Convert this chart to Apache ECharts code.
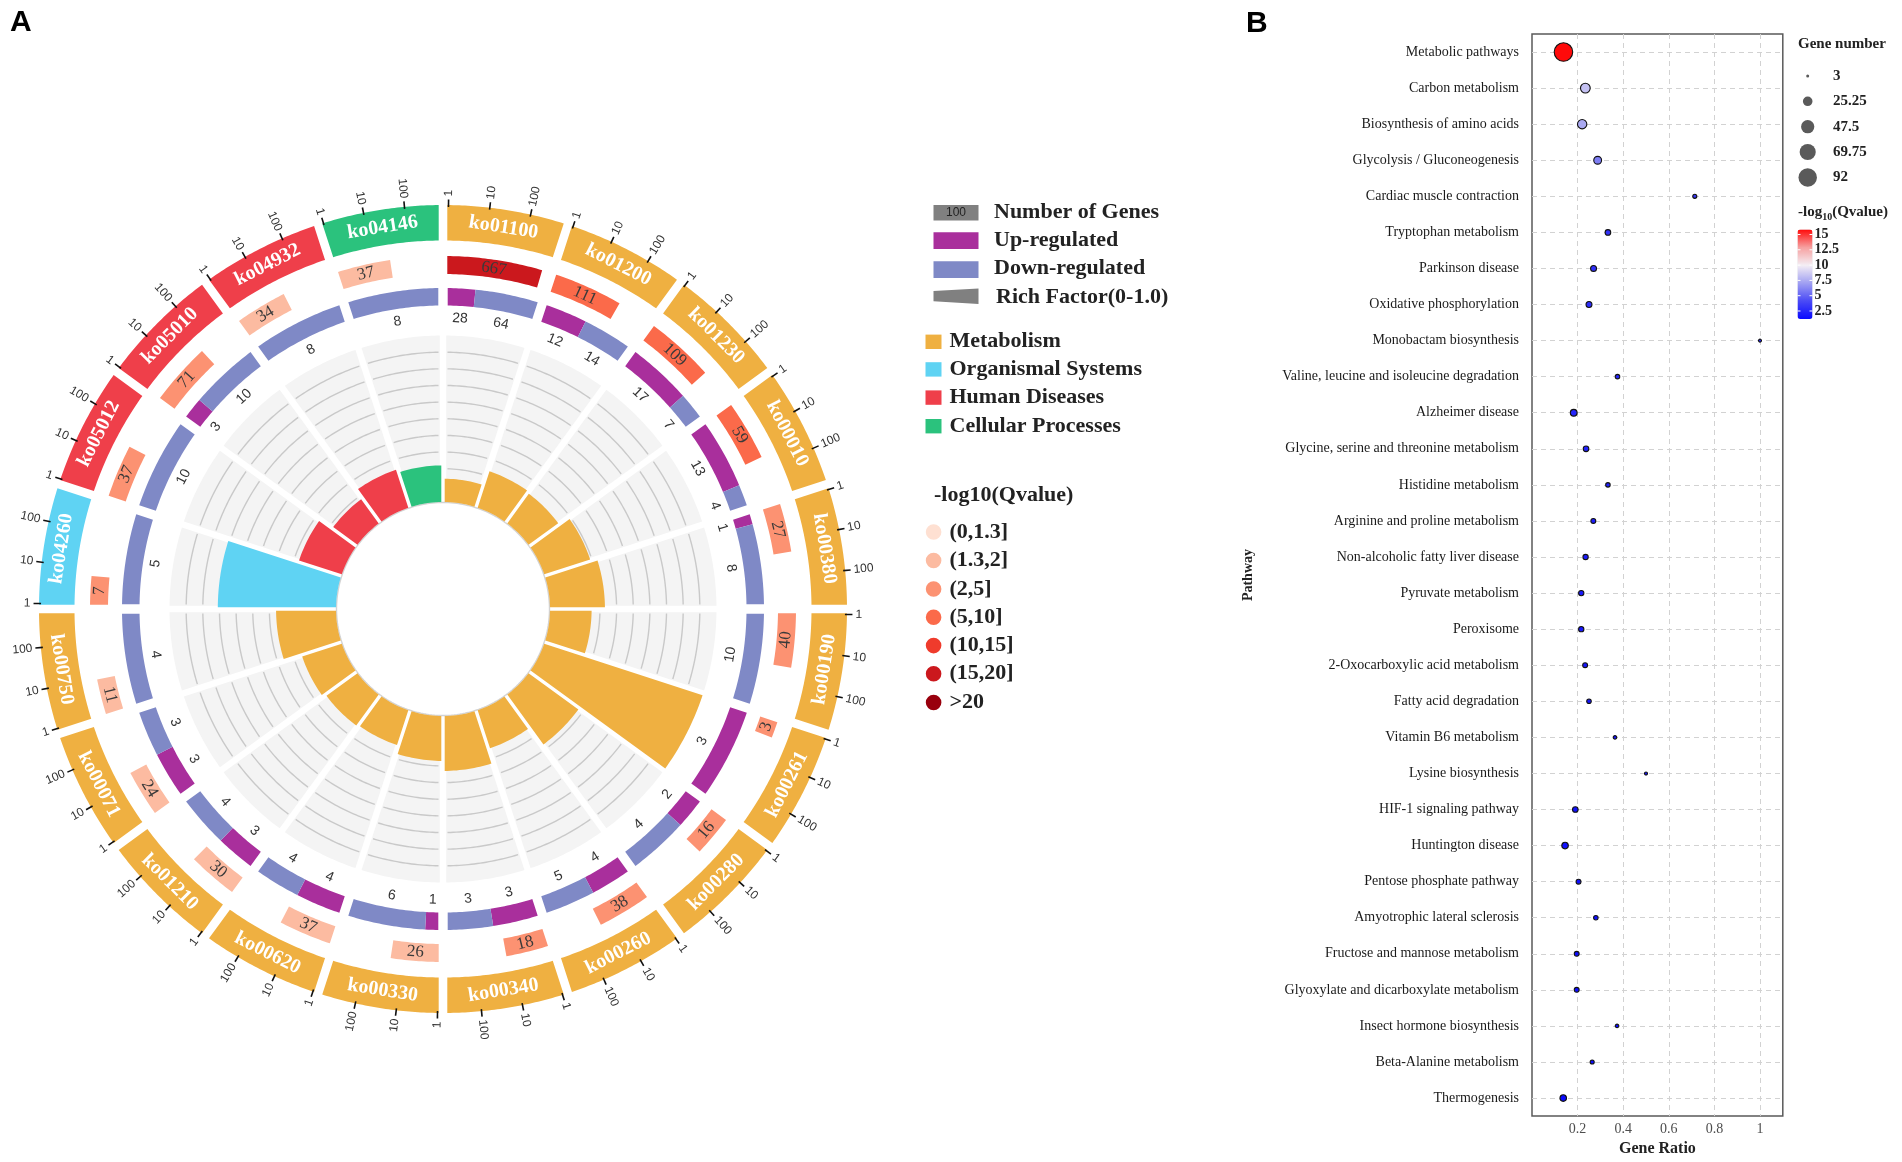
<!DOCTYPE html>
<html>
<head>
<meta charset="utf-8">
<script src="https://cdn.jsdelivr.net/npm/echarts@6/dist/echarts.min.js"></script>
<style>
html,body{margin:0;padding:0;background:#ffffff;}
#c{width:1902px;height:1162px;}
</style>
</head>
<body>
<div id="c"></div>
<script>
// ================= Panel A data =================
const pathwayIds = ['ko01100','ko01200','ko01230','ko00010','ko00380','ko00190','ko00261','ko00280','ko00260','ko00340',
                    'ko00330','ko00620','ko01210','ko00071','ko00750','ko04260','ko05012','ko05010','ko04932','ko04146'];
const pathwayClass = ['Metabolism','Metabolism','Metabolism','Metabolism','Metabolism','Metabolism','Metabolism','Metabolism','Metabolism','Metabolism',
                      'Metabolism','Metabolism','Metabolism','Metabolism','Metabolism','Organismal Systems','Human Diseases','Human Diseases','Human Diseases','Cellular Processes'];
const backgroundGenes = [667,111,109,59,27,40,3,16,38,18,26,37,30,24,11,7,37,71,34,37];
const upGenes   = [28,12,17,13,1,0,3,2,4,3,1,4,3,3,0,0,0,3,0,0];
const downGenes = [64,14,7,4,8,10,0,4,5,3,6,4,4,3,4,5,10,10,8,8];
const richFactor = [0.14,0.23,0.22,0.29,0.33,0.25,1.0,0.37,0.24,0.33,0.27,0.22,0.23,0.25,0.36,0.71,0.27,0.18,0.24,0.22];
const qValueA = [15.82,8.3,7.4,5.9,3.0,2.8,2.6,2.5,2.3,2.2,1.98,1.88,1.78,1.72,1.62,3.3,2.9,2.4,1.92,1.85];
const geneTickValues = [1, 10, 100];
const geneAxisMax = 1000;      // scale of the gene-number track
const tickAxisMax = 630;       // scale of the outer 1/10/100 ruler
const richGridValues = [0.1,0.2,0.3,0.4,0.5,0.6,0.7,0.8,0.9];
const classNames = ['Metabolism','Organismal Systems','Human Diseases','Cellular Processes'];
const qBinLabels = ['(0,1.3]','(1.3,2]','(2,5]','(5,10]','(10,15]','(15,20]','>20'];
const qBinEdges = [1.3, 2, 5, 10, 15, 20];

// ================= Panel B data =================
const pathwayNamesB = ['Metabolic pathways','Carbon metabolism','Biosynthesis of amino acids','Glycolysis / Gluconeogenesis',
  'Cardiac muscle contraction','Tryptophan metabolism','Parkinson disease','Oxidative phosphorylation','Monobactam biosynthesis',
  'Valine, leucine and isoleucine degradation','Alzheimer disease','Glycine, serine and threonine metabolism','Histidine metabolism',
  'Arginine and proline metabolism','Non-alcoholic fatty liver disease','Pyruvate metabolism','Peroxisome','2-Oxocarboxylic acid metabolism',
  'Fatty acid degradation','Vitamin B6 metabolism','Lysine biosynthesis','HIF-1 signaling pathway','Huntington disease',
  'Pentose phosphate pathway','Amyotrophic lateral sclerosis','Fructose and mannose metabolism','Glyoxylate and dicarboxylate metabolism',
  'Insect hormone biosynthesis','Beta-Alanine metabolism','Thermogenesis'];
const geneRatioB = [0.138,0.234,0.220,0.288,0.714,0.333,0.270,0.250,1.0,0.375,0.183,0.237,0.333,0.269,0.235,0.216,0.216,0.233,0.250,0.364,
                    0.50,0.19,0.145,0.204,0.28,0.196,0.196,0.373,0.264,0.137];
const geneNumberB = [92,26,24,17,5,9,10,10,3,6,13,9,6,7,8,8,8,7,6,4,3,9,12,7,6,7,7,4,5,12];
const qValueB = [15.82,8.3,7.4,5.9,3.3,3.0,2.9,2.8,2.6,2.5,2.4,2.3,2.2,1.98,1.92,1.88,1.85,1.78,1.72,1.62,
                 1.55,1.5,1.45,1.4,1.36,1.32,1.29,1.25,1.22,1.19];
const sizeLegendValues = [3, 25.25, 47.5, 69.75, 92];
const colorbarTicks = [2.5, 5, 7.5, 10, 12.5, 15];

// ================= styles / layout =================
const SERIF = '"Liberation Serif","Times New Roman",serif';
const SANS = '"Liberation Sans",Arial,sans-serif';
const classColor = {'Metabolism':'#efb041','Organismal Systems':'#5fd3f3','Human Diseases':'#ef3f4a','Cellular Processes':'#2bc27d'};
const upColor = '#a92f9c', downColor = '#7f89c6';
const qColors = ['#fee0d2','#fcbba1','#fc9272','#fb6a4a','#ef3b2c','#cb181d','#99000d'];
const L = {cx: 443, cy: 609, rIn: 107, rBg: 273.5,
           r3: [303.5, 321], rLab3: 291, r2: [335, 353], r1: [368.5, 404],
           tickIn: 402, tickOut: 409.5, tickLab: 412.5};
const TAU = Math.PI * 2;

function qColorFor(q){ let k = 0; while (k < qBinEdges.length && q > qBinEdges[k]) k++; return qColors[k]; }
function norm(a){ a = a % TAU; return a < 0 ? a + TAU : a; }
function tanRot(a){ a = norm(a); return (a > Math.PI/2 && a < 3*Math.PI/2) ? Math.PI - a : -a; }
function radRot(a){ a = norm(a); return a <= Math.PI ? {rot: Math.PI/2 - a, align: 'left'} : {rot: 3*Math.PI/2 - a, align: 'right'}; }
function pt(cx, cy, r, a){ return [cx + r*Math.sin(a), cy - r*Math.cos(a)]; }
function arcPts(cx, cy, r, a0, a1){
  const n = Math.max(4, Math.ceil(Math.abs(a1 - a0) * r / 3));
  const out = [];
  for (let k = 0; k <= n; k++) out.push(pt(cx, cy, r, a0 + (a1 - a0)*k/n));
  return out;
}
function ringPoly(cx, cy, r0, r1, a0, a1, dS, dE){
  const s1 = a0 + Math.asin(dS/r1), e1 = a1 - Math.asin(dE/r1);
  const s0 = a0 + Math.asin(dS/r0), e0 = a1 - Math.asin(dE/r0);
  return arcPts(cx, cy, r1, s1, e1).concat(arcPts(cx, cy, r0, e0, s0));
}
function dist(p, cx, cy){ return Math.hypot(p[0]-cx, p[1]-cy); }
function geom(params, api){
  const cs = params.coordSys;
  const i = api.value(1);
  const p = api.coord([1, i]);
  const a = Math.atan2(p[0]-cs.cx, cs.cy-p[1]);
  let bw = api.size([0, 1])[1];
  if (!isFinite(bw) || bw <= 0) bw = TAU / pathwayIds.length;
  return {cx: cs.cx, cy: cs.cy, i, a0: a - bw/2, a1: a + bw/2,
          rIn: dist(api.coord([0, i]), cs.cx, cs.cy), rOut: dist(p, cs.cx, cs.cy)};
}
function txt(x, y, rot, text, font, fill, align){
  return {type: 'text', x, y, rotation: rot, silent: true,
          style: {text: String(text), font, fill, align: align || 'center', verticalAlign: 'middle'}};
}

// --- renderers ---
function renderBg(params, api){
  const g = geom(params, api);
  const ch = [{type: 'polygon', shape: {points: ringPoly(g.cx, g.cy, g.rIn, g.rOut, g.a0, g.a1, 3.2, 3.2)}, style: {fill: '#f4f4f4'}}];
  richGridValues.forEach(v => {
    const r = dist(api.coord([v, g.i]), g.cx, g.cy);
    const s = g.a0 + Math.asin(4.5/r), e = g.a1 - Math.asin(4.5/r);
    ch.push({type: 'polyline', shape: {points: arcPts(g.cx, g.cy, r, s, e)}, style: {stroke: '#c9c9c9', lineWidth: 1.4, fill: null}});
  });
  ch.push({type: 'polyline', shape: {points: arcPts(g.cx, g.cy, g.rIn - 0.5, g.a0, g.a1)}, style: {stroke: '#d3d3d3', lineWidth: 1.4, fill: null}});
  return {type: 'group', children: ch};
}
function renderRich(params, api){
  const g = geom(params, api);
  const rTop = dist(api.coord([api.value(0), g.i]), g.cx, g.cy);
  return {type: 'polygon', shape: {points: ringPoly(g.cx, g.cy, g.rIn, rTop, g.a0, g.a1, 1.7, 1.7)},
          style: {fill: classColor[pathwayClass[g.i]]}};
}
function renderUpDown(params, api){
  const g = geom(params, api);
  const up = api.value(2), down = api.value(3);
  const r0 = L.r3[0], r1 = L.r3[1], rm = (r0 + r1)/2, d = 4.7;
  const s = g.a0 + Math.asin(d/rm), e = g.a1 - Math.asin(d/rm);
  const split = s + (e - s) * up / (up + down);
  const ch = [];
  const f = '14px ' + SANS;
  if (up > 0) {
    ch.push({type: 'polygon', shape: {points: ringPoly(g.cx, g.cy, r0, r1, g.a0, down > 0 ? split : g.a1, d, down > 0 ? 0 : d)}, style: {fill: upColor}});
    const am = (s + split)/2, p = pt(g.cx, g.cy, L.rLab3, am);
    ch.push(txt(p[0], p[1], tanRot(am), up, f, '#333'));
  }
  if (down > 0) {
    ch.push({type: 'polygon', shape: {points: ringPoly(g.cx, g.cy, r0, r1, up > 0 ? split : g.a0, g.a1, up > 0 ? 0 : d, d)}, style: {fill: downColor}});
    const am = (split + e)/2, p = pt(g.cx, g.cy, L.rLab3, am);
    ch.push(txt(p[0], p[1], tanRot(am), down, f, '#333'));
  }
  return {type: 'group', children: ch};
}
function renderGenes(params, api){
  const g = geom(params, api);
  const n = api.value(2), q = api.value(3);
  const r0 = L.r2[0], r1 = L.r2[1], rm = (r0 + r1)/2, d = 4.3;
  const s = g.a0 + Math.asin(d/rm), e = g.a1 - Math.asin(d/rm);
  const end = s + (e - s) * Math.log10(n) / Math.log10(geneAxisMax);
  const am = (s + end)/2, p = pt(g.cx, g.cy, rm, am);
  return {type: 'group', children: [
    {type: 'polygon', shape: {points: ringPoly(g.cx, g.cy, r0, r1, g.a0, end, d, 0)}, style: {fill: qColorFor(q)}},
    txt(p[0], p[1], tanRot(am), n, '17px ' + SERIF, '#3a3a3a')
  ]};
}
function renderOuter(params, api){
  const g = geom(params, api);
  const r0 = L.r1[0], r1 = L.r1[1], rm = (r0 + r1)/2;
  const ch = [{type: 'polygon', shape: {points: ringPoly(g.cx, g.cy, r0, r1, g.a0, g.a1, 4.3, 4.3)}, style: {fill: classColor[pathwayClass[g.i]]}}];
  const amid = (g.a0 + g.a1)/2, pm = pt(g.cx, g.cy, rm, amid);
  ch.push(txt(pm[0], pm[1], tanRot(amid), pathwayIds[g.i], 'bold 20px ' + SERIF, '#ffffff'));
  const s = g.a0 + Math.asin(5.5/r1), e = g.a1 - Math.asin(5.5/r1);
  geneTickValues.forEach(v => {
    const a = s + (e - s) * Math.log10(v) / Math.log10(tickAxisMax);
    const pa = pt(g.cx, g.cy, L.tickIn, a), pb = pt(g.cx, g.cy, L.tickOut, a);
    ch.push({type: 'line', shape: {x1: pa[0], y1: pa[1], x2: pb[0], y2: pb[1]}, style: {stroke: '#111', lineWidth: 1.6}});
    const rr = radRot(a), pl = pt(g.cx, g.cy, L.tickLab, a);
    ch.push(txt(pl[0], pl[1], rr.rot, v, '12px ' + SANS, '#333', rr.align));
  });
  return {type: 'group', children: ch};
}

// --- panel B helpers ---
const sMin = Math.min(...sizeLegendValues), sMax = Math.max(...sizeLegendValues);
function dotSize(n){ const dMin = 3, dMax = 18.5; return Math.sqrt(dMin*dMin + (n - sMin)/(sMax - sMin)*(dMax*dMax - dMin*dMin)); }
const qMin = Math.min(...qValueB), qMax = Math.max(...qValueB);
const CB = {left: 1797.5, top: 229.5, w: 15, h: 89.5};

// ================= graphics (titles & legends) =================
const mctx = document.createElement('canvas').getContext('2d');
function measure(t, font){ mctx.font = font; return mctx.measureText(t).width; }
const G = [];
G.push({type: 'text', x: 10, y: 8, style: {text: 'A', font: 'bold 30px ' + SANS, fill: '#000', verticalAlign: 'top'}});
G.push({type: 'text', x: 1246, y: 9, style: {text: 'B', font: 'bold 30px ' + SANS, fill: '#000', verticalAlign: 'top'}});
const LF = 'bold 22px ' + SERIF, LC = '#222';
const LX = 933.5, LW = 45, LT = 994;
G.push({type: 'rect', shape: {x: LX, y: 205, width: LW, height: 15.5}, style: {fill: '#808080'}});
G.push({type: 'text', x: LX + LW/2, y: 213, style: {text: '100', font: '12px ' + SANS, fill: '#222', align: 'center', verticalAlign: 'middle'}});
G.push({type: 'text', x: LT, y: 212.5, style: {text: 'Number of Genes', font: LF, fill: LC, verticalAlign: 'middle'}});
G.push({type: 'rect', shape: {x: LX, y: 232.3, width: LW, height: 16.6}, style: {fill: upColor}});
G.push({type: 'text', x: LT, y: 240.5, style: {text: 'Up-regulated', font: LF, fill: LC, verticalAlign: 'middle'}});
G.push({type: 'rect', shape: {x: LX, y: 261.2, width: LW, height: 16.8}, style: {fill: downColor}});
G.push({type: 'text', x: LT, y: 268.5, style: {text: 'Down-regulated', font: LF, fill: LC, verticalAlign: 'middle'}});
G.push({type: 'polygon', shape: {points: [[LX, 291], [LX + LW, 288.5], [LX + LW, 304], [LX, 301.2]]}, style: {fill: '#808080'}});
G.push({type: 'text', x: LT + 2, y: 297.5, style: {text: 'Rich Factor(0-1.0)', font: LF, fill: LC, verticalAlign: 'middle'}});
const classY = [341.8, 369.4, 397.6, 426.2];
classNames.forEach((c, k) => {
  G.push({type: 'rect', shape: {x: 925.5, y: classY[k] - 7.2, width: 16, height: 14.4}, style: {fill: classColor[c]}});
  G.push({type: 'text', x: 949.5, y: classY[k], style: {text: c, font: LF, fill: LC, verticalAlign: 'middle'}});
});
G.push({type: 'text', x: 934, y: 495, style: {text: '-log10(Qvalue)', font: LF, fill: LC, verticalAlign: 'middle'}});
const qLegY = [532, 560.5, 589, 617.3, 645.6, 673.8, 702.5];
qBinLabels.forEach((t, k) => {
  G.push({type: 'circle', shape: {cx: 933.6, cy: qLegY[k], r: 7.8}, style: {fill: qColors[k]}});
  G.push({type: 'text', x: 949.5, y: qLegY[k], style: {text: t, font: LF, fill: LC, verticalAlign: 'middle'}});
});
// Panel B legends
const BF = 'bold 15px ' + SERIF;
G.push({type: 'text', x: 1798, y: 44, style: {text: 'Gene number', font: BF, fill: LC, verticalAlign: 'middle'}});
const sizeLegY = [76, 101.3, 126.7, 152, 177.5];
sizeLegendValues.forEach((v, k) => {
  G.push({type: 'circle', shape: {cx: 1807.7, cy: sizeLegY[k], r: dotSize(v)/2}, style: {fill: '#5a5a5a'}});
  G.push({type: 'text', x: 1833, y: sizeLegY[k], style: {text: String(v), font: BF, fill: LC, verticalAlign: 'middle'}});
});
(function(){
  const x0 = 1798, y0 = 212;
  const w1 = measure('-log', BF);
  const subF = 'bold 10px ' + SERIF;
  const w2 = measure('10', subF);
  G.push({type: 'text', x: x0, y: y0, style: {text: '-log', font: BF, fill: LC, verticalAlign: 'middle'}});
  G.push({type: 'text', x: x0 + w1, y: y0 + 5, style: {text: '10', font: subF, fill: LC, verticalAlign: 'middle'}});
  G.push({type: 'text', x: x0 + w1 + w2, y: y0, style: {text: '(Qvalue)', font: BF, fill: LC, verticalAlign: 'middle'}});
})();
colorbarTicks.forEach(v => {
  const y = CB.top + (qMax - v)/(qMax - qMin) * CB.h;
  G.push({type: 'line', z: 100, shape: {x1: CB.left, y1: y, x2: CB.left + 3, y2: y}, style: {stroke: '#fff', lineWidth: 1}});
  G.push({type: 'line', z: 100, shape: {x1: CB.left + CB.w - 3, y1: y, x2: CB.left + CB.w, y2: y}, style: {stroke: '#fff', lineWidth: 1}});
  G.push({type: 'text', x: CB.left + CB.w + 2, y: y, style: {text: String(v), font: 'bold 14px ' + SERIF, fill: LC, verticalAlign: 'middle'}});
});

// ================= option =================
const option = {
  animation: false,
  backgroundColor: '#ffffff',
  polar: {center: [L.cx, L.cy], radius: [L.rIn, L.rBg]},
  angleAxis: {type: 'category', data: pathwayIds, startAngle: 90, clockwise: true, show: false},
  radiusAxis: {type: 'value', min: 0, max: 1, show: false},
  grid: {left: 1532, top: 34, width: 250.8, height: 1084.3, show: true, borderColor: '#5a5a5a', borderWidth: 1.5, backgroundColor: 'transparent'},
  xAxis: {
    type: 'value', min: 0, max: 1.1, interval: 0.2,
    axisLine: {show: false}, axisTick: {show: false},
    splitLine: {show: true, showMinLine: false, showMaxLine: false, lineStyle: {color: '#d2d2d2', type: [5, 4], width: 1}},
    axisLabel: {margin: 6, fontFamily: SERIF, fontSize: 14, color: '#4d4d4d',
      formatter: v => (v < 0.05 || v > 1.05) ? '' : (Math.abs(v - 1) < 1e-9 ? '1' : (+v).toFixed(1))},
    name: 'Gene Ratio', nameLocation: 'middle', nameGap: 24,
    nameTextStyle: {fontFamily: SERIF, fontSize: 16, fontWeight: 'bold', color: '#222'}
  },
  yAxis: {
    type: 'category', data: pathwayNamesB, inverse: true,
    axisLine: {show: false}, axisTick: {show: false},
    axisLabel: {interval: 0, margin: 13, fontFamily: SERIF, fontSize: 14, color: '#1a1a1a'},
    splitLine: {show: true, interval: 0, alignWithLabel: true, lineStyle: {color: '#d2d2d2', type: [5, 4], width: 1}},
    name: 'Pathway', nameLocation: 'middle', nameGap: 277, nameRotate: 90,
    nameTextStyle: {fontFamily: SERIF, fontSize: 14, fontWeight: 'bold', color: '#222'}
  },
  visualMap: {
    type: 'continuous', min: qMin, max: qMax, dimension: 2, seriesIndex: 5,
    inRange: {color: ['#0a0aff', '#4a4af6', '#a09ff2', '#f4eef4', '#f6a0a0', '#ff0a0a']},
    left: CB.left, top: CB.top, itemWidth: CB.w, itemHeight: CB.h,
    calculable: false, padding: 0, text: null, hoverLink: false
  },
  series: [
    {type: 'custom', coordinateSystem: 'polar', silent: true, renderItem: renderBg,
     data: pathwayIds.map((id, i) => [1, i])},
    {type: 'custom', coordinateSystem: 'polar', silent: true, renderItem: renderRich,
     data: richFactor.map((v, i) => [v, i])},
    {type: 'custom', coordinateSystem: 'polar', silent: true, renderItem: renderUpDown,
     data: upGenes.map((u, i) => [0, i, u, downGenes[i]])},
    {type: 'custom', coordinateSystem: 'polar', silent: true, renderItem: renderGenes,
     data: backgroundGenes.map((n, i) => [0, i, n, qValueA[i]])},
    {type: 'custom', coordinateSystem: 'polar', silent: true, renderItem: renderOuter,
     data: pathwayIds.map((id, i) => [0, i])},
    {type: 'scatter', xAxisIndex: 0, yAxisIndex: 0, silent: true,
     data: pathwayNamesB.map((n, i) => [geneRatioB[i], i, qValueB[i], geneNumberB[i]]),
     symbolSize: v => dotSize(v[3]),
     itemStyle: {borderColor: '#111', borderWidth: 1.1, opacity: 1}}
  ],
  graphic: {elements: G}
};
const chart = echarts.init(document.getElementById('c'));
chart.setOption(option);
</script>
</body>
</html>
